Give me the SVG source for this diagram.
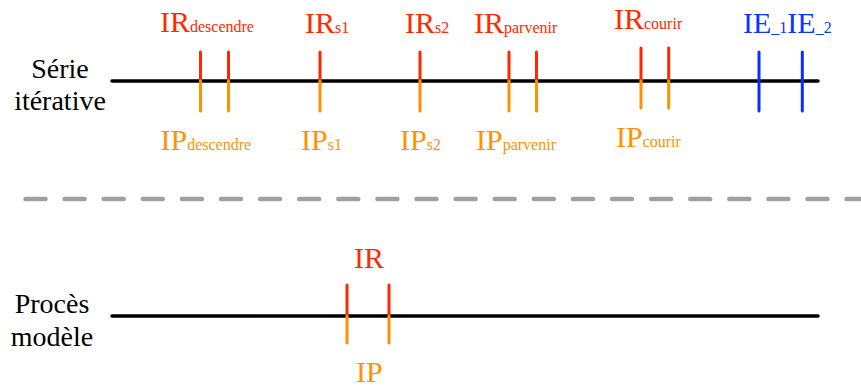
<svg xmlns="http://www.w3.org/2000/svg" width="861" height="387" viewBox="0 0 861 387">
  <style>
    .lbl { font-size: 28px; fill: #000; text-anchor: middle; }
    .big { font-size: 30px; }
    .sub { font-size: 16px; }
    .tr { fill: #FF2A00; }
    .tp { fill: #FF9300; }
    .tb { fill: #0A35FF; }
    .axis { stroke: #000; stroke-width: 3.5; stroke-linecap: round; fill: none; }
    .sep { stroke: #A0A0A0; stroke-width: 4.5; stroke-linecap: round; stroke-dasharray: 20 19.1; fill: none; }
    .r { stroke: #FF2600; stroke-width: 3; stroke-linecap: round; }
    .o { stroke: #FF9000; stroke-width: 3; stroke-linecap: round; }
    .b { stroke: #0A2EFF; stroke-width: 3; stroke-linecap: round; }
  </style>

  <g id="connectors">
    <line class="axis" x1="112" y1="81" x2="818" y2="81"/>
    <line class="sep" x1="25.5" y1="199" x2="870" y2="199"/>
    <line class="axis" x1="112" y1="316" x2="818" y2="316"/>
  </g>

  <g font-family="Liberation Serif, serif">
  <g id="label-serie">
    <text class="lbl" x="60" y="78">Série</text>
    <text class="lbl" x="60" y="110">itérative</text>
  </g>
  <g id="label-proces">
    <text class="lbl" x="52" y="313">Procès</text>
    <text class="lbl" x="52" y="346">modèle</text>
  </g>

  <g id="descendre">
    <line class="r" x1="200.5" y1="52" x2="200.5" y2="81"/>
    <line class="o" x1="200.5" y1="81" x2="200.5" y2="111"/>
    <line class="r" x1="228.5" y1="52" x2="228.5" y2="81"/>
    <line class="o" x1="228.5" y1="81" x2="228.5" y2="111"/>
    <text class="big tr" x="160" y="32">IR<tspan class="sub">descendre</tspan></text>
    <text class="big tp" x="160.5" y="150">IP<tspan class="sub">descendre</tspan></text>
  </g>

  <g id="s1">
    <line class="r" x1="320" y1="52" x2="320" y2="81"/>
    <line class="o" x1="320" y1="81" x2="320" y2="111"/>
    <text class="big tr" x="305" y="33">IR<tspan class="sub">s1</tspan></text>
    <text class="big tp" x="301" y="150">IP<tspan class="sub">s1</tspan></text>
  </g>

  <g id="s2">
    <line class="r" x1="420" y1="52" x2="420" y2="81"/>
    <line class="o" x1="420" y1="81" x2="420" y2="111"/>
    <text class="big tr" x="405" y="33">IR<tspan class="sub">s2</tspan></text>
    <text class="big tp" x="400" y="150">IP<tspan class="sub">s2</tspan></text>
  </g>

  <g id="parvenir">
    <line class="r" x1="509" y1="52" x2="509" y2="81"/>
    <line class="o" x1="509" y1="81" x2="509" y2="111"/>
    <line class="r" x1="536.5" y1="52" x2="536.5" y2="81"/>
    <line class="o" x1="536.5" y1="81" x2="536.5" y2="111"/>
    <text class="big tr" x="474" y="33">IR<tspan class="sub">parvenir</tspan></text>
    <text class="big tp" x="476" y="150">IP<tspan class="sub">parvenir</tspan></text>
  </g>

  <g id="courir">
    <line class="r" x1="641" y1="48" x2="641" y2="81"/>
    <line class="o" x1="641" y1="81" x2="641" y2="108"/>
    <line class="r" x1="668.7" y1="48" x2="668.7" y2="81"/>
    <line class="o" x1="668.7" y1="81" x2="668.7" y2="108"/>
    <text class="big tr" x="614" y="29">IR<tspan class="sub">courir</tspan></text>
    <text class="big tp" x="616" y="147">IP<tspan class="sub">courir</tspan></text>
  </g>

  <g id="ie">
    <line class="b" x1="759" y1="52" x2="759" y2="111"/>
    <line class="b" x1="802.3" y1="52" x2="802.3" y2="111"/>
    <text class="big tb" x="743" y="33">IE<tspan class="sub">_1</tspan>IE<tspan class="sub">_2</tspan></text>
  </g>

  <g id="modele-ir-ip">
    <line class="r" x1="347" y1="285" x2="347" y2="316"/>
    <line class="o" x1="347" y1="316" x2="347" y2="343"/>
    <line class="r" x1="389" y1="285" x2="389" y2="316"/>
    <line class="o" x1="389" y1="316" x2="389" y2="343"/>
    <text class="big tr" x="354" y="268">IR</text>
    <text class="big tp" x="356" y="382">IP</text>
  </g>
  </g>
</svg>
